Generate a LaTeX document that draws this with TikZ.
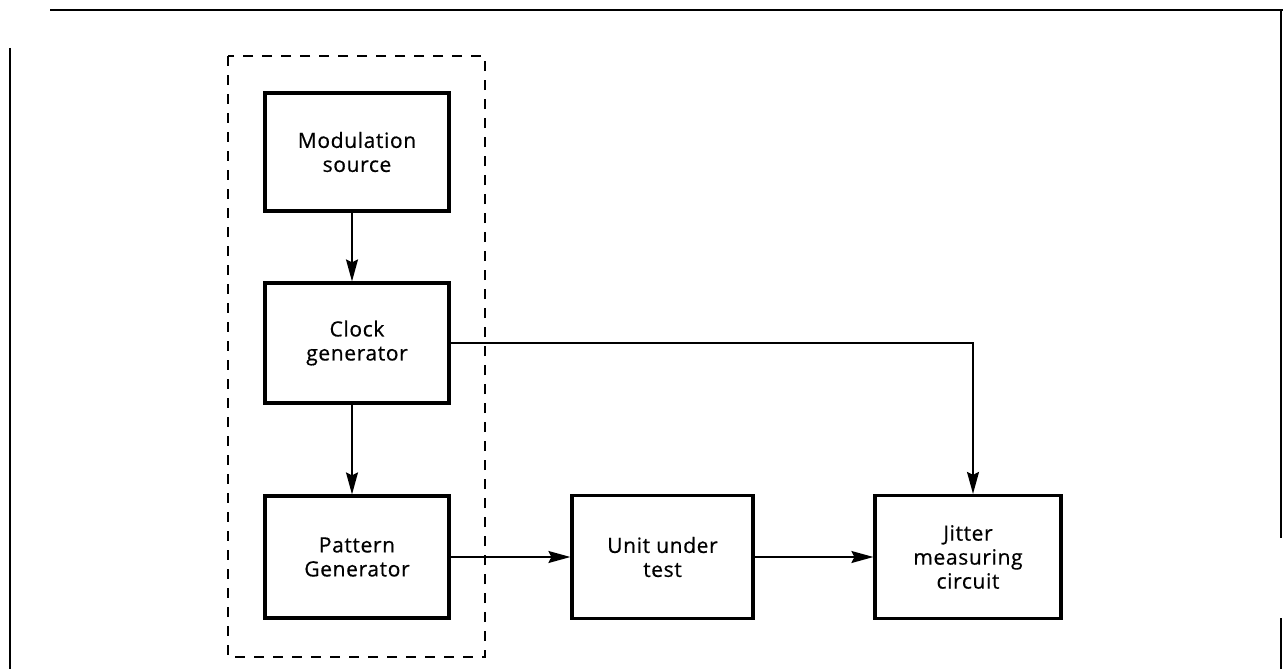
\documentclass[tikz,border=0pt]{standalone}
\usepackage{fontspec}
\setmainfont{Open Sans}[LetterSpace=3, FakeBold=0.6]
\usetikzlibrary{arrows.meta}
\tikzset{
  blk/.style={draw, line width=3.2pt, minimum width=184pt, minimum height=120pt,
    align=center, inner sep=0pt, font=\fontsize{21}{24}\selectfont},
  conn/.style={line width=1.6pt, -{Stealth[length=22pt,width=12pt,inset=3pt]}},
  frame/.style={line width=2.4pt},
  group/.style={line width=2pt, dash pattern=on 10pt off 9pt}
}
\begin{document}
\begin{tikzpicture}[x=1pt,y=-1pt]
\useasboundingbox (0,0) rectangle (1287,669);
% outer frame fragments
\draw[frame] (50,10) -- (1283,10);
\draw[frame] (1281,10) -- (1281,538);
\draw[frame] (1281,618) -- (1281,669);
\draw[frame] (10,48) -- (10,669);
% dashed group
\draw[group] (228,56) rectangle (485,657);
% blocks
\node[blk, minimum height=118pt] (mod) at (357,152) {Modulation\\source};
\node[blk] (clk) at (357,343) {Clock\\generator};
\node[blk, minimum height=122pt] (pat) at (357,557) {Pattern\\Generator};
\node[blk, minimum width=181pt, minimum height=123pt] (uut) at (662.5,557) {Unit under\\test};
\node[blk, minimum width=186pt, minimum height=123pt] (jit) at (968,557) {Jitter\\measuring\\circuit};
% connectors
\draw[conn] ([xshift=-5pt]mod.south) -- ([xshift=-5pt]clk.north);
\draw[conn] ([xshift=-5pt]clk.south) -- ([xshift=-5pt]pat.north);
\draw[conn] (pat.east) -- (uut.west);
\draw[conn] (uut.east) -- (jit.west);
\coordinate (bend) at ([xshift=5pt]jit.north |- clk.east);
\draw[conn] (clk.east) -- (bend) -- ([xshift=5pt]jit.north);
\end{tikzpicture}
\end{document}
